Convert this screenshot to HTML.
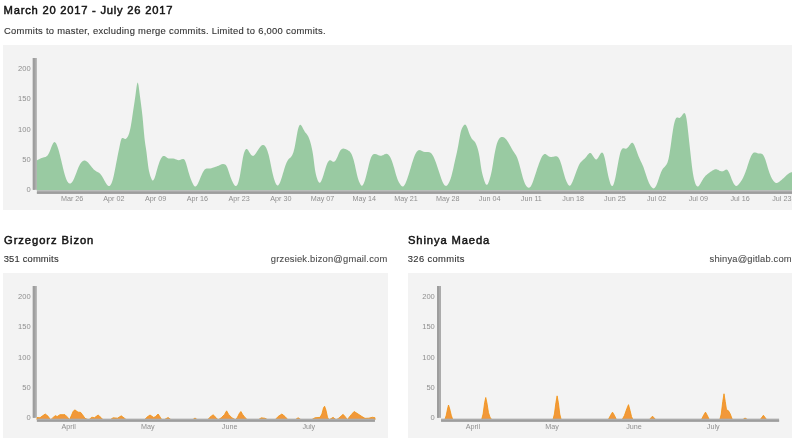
<!DOCTYPE html>
<html lang="en">
<head>
<meta charset="utf-8">
<title>Contributors</title>
<style>
html,body{margin:0;padding:0;background:#fff;}
body{width:800px;height:443px;position:relative;overflow:hidden;font-family:"Liberation Sans",Arial,sans-serif;color:#2e2e2e;}
.abs{position:absolute;white-space:nowrap;line-height:1;}
h3.abs{margin:0;font-size:11.2px;font-weight:normal;color:#141414;-webkit-text-stroke:0.48px #141414;}
.sub{font-size:9.4px;color:#333;-webkit-text-stroke:0.12px #333;}
.email{font-size:9.4px;color:#4c4c4c;text-align:right;-webkit-text-stroke:0.1px #4c4c4c;}
.box{position:absolute;background:#f3f3f3;overflow:hidden;}
svg{position:absolute;left:0;top:0;}
svg text.xl{font-size:7.2px;}
svg text{font-family:"Liberation Sans",Arial,sans-serif;font-size:7.55px;fill:#8f8f8f;}
</style>
</head>
<body>
<h3 class="abs" id="t1" style="left:3.6px;top:4.6px;letter-spacing:0.77px;">March 20 2017 - July 26 2017</h3>
<div class="abs sub" id="s1" style="left:4px;top:26px;letter-spacing:0.292px;">Commits to master, excluding merge commits. Limited to 6,000 commits.</div>
<div class="box" style="left:3px;top:44.5px;width:789px;height:165.5px;"></div>

<h3 class="abs" id="t2" style="left:4px;top:234.6px;letter-spacing:0.94px;">Grzegorz Bizon</h3>
<div class="abs sub" id="s2" style="left:3.7px;top:254.1px;letter-spacing:0.174px;">351 commits</div>
<div class="abs email" id="e2" style="right:412.6px;top:254.1px;letter-spacing:0.184px;">grzesiek.bizon@gmail.com</div>
<div class="box" style="left:3px;top:272.5px;width:385px;height:165.5px;"></div>

<h3 class="abs" id="t3" style="left:408px;top:234.6px;letter-spacing:0.88px;">Shinya Maeda</h3>
<div class="abs sub" id="s3" style="left:407.8px;top:254.1px;letter-spacing:0.354px;">326 commits</div>
<div class="abs email" id="e3" style="right:8.2px;top:254.1px;letter-spacing:0.171px;">shinya@gitlab.com</div>
<div class="box" style="left:407.8px;top:272.5px;width:384.2px;height:165.5px;"></div>

<svg width="800" height="443" viewBox="0 0 800 443">
<defs><clipPath id="c1"><rect x="3" y="44.5" width="789" height="165.5"/></clipPath></defs>
<g clip-path="url(#c1)">
<path d="M36.50,190.20L36.50,160.60L37.00,160.33L37.50,160.06L38.00,159.79L38.50,159.52L39.00,159.26L39.50,159.00L40.00,158.75L40.50,158.52L41.00,158.29L41.50,158.09L42.00,157.91L42.50,157.75L43.00,157.61L43.50,157.49L44.00,157.37L44.50,157.24L45.00,157.08L45.50,156.89L46.00,156.64L46.50,156.34L47.00,155.95L47.50,155.46L48.00,154.84L48.50,154.06L49.00,153.10L49.50,151.97L50.00,150.72L50.50,149.40L51.00,148.06L51.50,146.75L52.00,145.53L52.50,144.42L53.00,143.48L53.50,142.75L54.00,142.27L54.50,142.09L55.00,142.22L55.50,142.65L56.00,143.35L56.50,144.28L57.00,145.42L57.50,146.75L58.00,148.23L58.50,149.85L59.00,151.59L59.50,153.43L60.00,155.37L60.50,157.38L61.00,159.45L61.50,161.56L62.00,163.70L62.50,165.83L63.00,167.93L63.50,169.98L64.00,171.94L64.50,173.79L65.00,175.50L65.50,177.05L66.00,178.44L66.50,179.67L67.00,180.73L67.50,181.63L68.00,182.36L68.50,182.92L69.00,183.31L69.50,183.54L70.00,183.60L70.50,183.49L71.00,183.22L71.50,182.80L72.00,182.24L72.50,181.54L73.00,180.71L73.50,179.77L74.00,178.71L74.50,177.56L75.00,176.33L75.50,175.04L76.00,173.73L76.50,172.39L77.00,171.06L77.50,169.76L78.00,168.50L78.50,167.31L79.00,166.21L79.50,165.20L80.00,164.29L80.50,163.48L81.00,162.77L81.50,162.15L82.00,161.63L82.50,161.21L83.00,160.88L83.50,160.66L84.00,160.53L84.50,160.50L85.00,160.57L85.50,160.73L86.00,160.97L86.50,161.28L87.00,161.66L87.50,162.10L88.00,162.59L88.50,163.12L89.00,163.69L89.50,164.28L90.00,164.90L90.50,165.53L91.00,166.16L91.50,166.79L92.00,167.41L92.50,168.02L93.00,168.59L93.50,169.14L94.00,169.64L94.50,170.10L95.00,170.50L95.50,170.84L96.00,171.14L96.50,171.40L97.00,171.64L97.50,171.89L98.00,172.14L98.50,172.43L99.00,172.75L99.50,173.14L100.00,173.60L100.50,174.14L101.00,174.77L101.50,175.47L102.00,176.23L102.50,177.04L103.00,177.90L103.50,178.79L104.00,179.71L104.50,180.65L105.00,181.57L105.50,182.47L106.00,183.31L106.50,184.08L107.00,184.76L107.50,185.32L108.00,185.74L108.50,186.01L109.00,186.10L109.50,185.99L110.00,185.67L110.50,185.12L111.00,184.34L111.50,183.32L112.00,182.04L112.50,180.50L113.00,178.69L113.50,176.64L114.00,174.40L114.50,172.00L115.00,169.49L115.50,166.91L116.00,164.30L116.50,161.71L117.00,159.14L117.50,156.60L118.00,154.09L118.50,151.60L119.00,149.13L119.50,146.68L120.00,144.25L120.50,141.89L121.00,139.92L121.50,138.65L122.00,138.05L122.50,137.91L123.00,138.04L123.50,138.27L124.00,138.53L124.50,138.76L125.00,138.91L125.50,138.92L126.00,138.74L126.50,138.36L127.00,137.79L127.50,137.06L128.00,136.18L128.50,135.09L129.00,133.76L129.50,132.11L130.00,130.10L130.50,127.69L131.00,124.92L131.50,121.88L132.00,118.63L132.50,115.25L133.00,111.83L133.50,108.43L134.00,105.14L134.50,101.90L135.00,98.57L135.50,95.02L136.00,91.12L136.50,87.25L137.00,84.13L137.50,82.49L138.00,82.95L138.50,85.24L139.00,88.72L139.50,92.70L140.00,96.60L140.50,100.34L141.00,104.05L141.50,107.88L142.00,111.99L142.50,116.53L143.00,121.69L143.50,127.40L144.00,133.11L144.50,138.22L145.00,142.34L145.50,145.66L146.00,148.80L146.50,152.37L147.00,156.49L147.50,160.75L148.00,164.76L148.50,168.15L149.00,170.90L149.50,173.11L150.00,174.93L150.50,176.46L151.00,177.83L151.50,179.00L152.00,179.89L152.50,180.41L153.00,180.47L153.50,180.07L154.00,179.27L154.50,178.14L155.00,176.75L155.50,175.16L156.00,173.43L156.50,171.62L157.00,169.79L157.50,168.00L158.00,166.29L158.50,164.69L159.00,163.20L159.50,161.82L160.00,160.57L160.50,159.46L161.00,158.48L161.50,157.65L162.00,156.97L162.50,156.44L163.00,156.09L163.50,155.90L164.00,155.88L164.50,156.01L165.00,156.25L165.50,156.57L166.00,156.94L166.50,157.32L167.00,157.68L167.50,158.00L168.00,158.24L168.50,158.41L169.00,158.52L169.50,158.58L170.00,158.60L170.50,158.59L171.00,158.57L171.50,158.53L172.00,158.51L172.50,158.49L173.00,158.51L173.50,158.56L174.00,158.65L174.50,158.80L175.00,158.97L175.50,159.17L176.00,159.38L176.50,159.59L177.00,159.78L177.50,159.94L178.00,160.07L178.50,160.14L179.00,160.15L179.50,160.08L180.00,159.94L180.50,159.74L181.00,159.52L181.50,159.31L182.00,159.13L182.50,159.01L183.00,158.99L183.50,159.09L184.00,159.36L184.50,159.85L185.00,160.60L185.50,161.68L186.00,163.06L186.50,164.67L187.00,166.44L187.50,168.29L188.00,170.14L188.50,171.92L189.00,173.61L189.50,175.21L190.00,176.73L190.50,178.16L191.00,179.51L191.50,180.79L192.00,181.98L192.50,183.09L193.00,184.09L193.50,184.96L194.00,185.66L194.50,186.16L195.00,186.45L195.50,186.49L196.00,186.27L196.50,185.81L197.00,185.16L197.50,184.34L198.00,183.38L198.50,182.31L199.00,181.17L199.50,179.99L200.00,178.77L200.50,177.55L201.00,176.33L201.50,175.16L202.00,174.03L202.50,172.98L203.00,172.01L203.50,171.13L204.00,170.38L204.50,169.74L205.00,169.25L205.50,168.90L206.00,168.68L206.50,168.57L207.00,168.52L207.50,168.53L208.00,168.56L208.50,168.59L209.00,168.60L209.50,168.56L210.00,168.50L210.50,168.40L211.00,168.28L211.50,168.14L212.00,167.99L212.50,167.82L213.00,167.65L213.50,167.48L214.00,167.32L214.50,167.16L215.00,167.00L215.50,166.84L216.00,166.67L216.50,166.49L217.00,166.31L217.50,166.10L218.00,165.88L218.50,165.64L219.00,165.40L219.50,165.16L220.00,164.92L220.50,164.70L221.00,164.50L221.50,164.33L222.00,164.20L222.50,164.10L223.00,164.06L223.50,164.07L224.00,164.14L224.50,164.28L225.00,164.51L225.50,164.86L226.00,165.35L226.50,166.04L227.00,166.95L227.50,168.10L228.00,169.43L228.50,170.89L229.00,172.43L229.50,173.98L230.00,175.50L230.50,176.93L231.00,178.28L231.50,179.54L232.00,180.71L232.50,181.80L233.00,182.81L233.50,183.74L234.00,184.56L234.50,185.24L235.00,185.75L235.50,186.04L236.00,186.09L236.50,185.85L237.00,185.32L237.50,184.47L238.00,183.28L238.50,181.74L239.00,179.85L239.50,177.64L240.00,175.13L240.50,172.34L241.00,169.30L241.50,166.13L242.00,162.97L242.50,159.96L243.00,157.24L243.50,154.96L244.00,153.11L244.50,151.64L245.00,150.50L245.50,149.66L246.00,149.12L246.50,148.90L247.00,149.02L247.50,149.44L248.00,150.07L248.50,150.85L249.00,151.71L249.50,152.57L250.00,153.37L250.50,154.10L251.00,154.73L251.50,155.25L252.00,155.62L252.50,155.85L253.00,155.89L253.50,155.76L254.00,155.46L254.50,155.03L255.00,154.48L255.50,153.84L256.00,153.13L256.50,152.37L257.00,151.59L257.50,150.81L258.00,150.04L258.50,149.28L259.00,148.56L259.50,147.86L260.00,147.21L260.50,146.61L261.00,146.08L261.50,145.62L262.00,145.26L262.50,145.02L263.00,144.91L263.50,144.94L264.00,145.13L264.50,145.48L265.00,146.00L265.50,146.67L266.00,147.52L266.50,148.53L267.00,149.71L267.50,151.08L268.00,152.63L268.50,154.37L269.00,156.31L269.50,158.44L270.00,160.77L270.50,163.22L271.00,165.73L271.50,168.25L272.00,170.69L272.50,173.00L273.00,175.12L273.50,177.05L274.00,178.80L274.50,180.36L275.00,181.75L275.50,182.96L276.00,183.98L276.50,184.76L277.00,185.28L277.50,185.50L278.00,185.41L278.50,185.02L279.00,184.37L279.50,183.48L280.00,182.40L280.50,181.15L281.00,179.76L281.50,178.26L282.00,176.67L282.50,175.02L283.00,173.34L283.50,171.65L284.00,169.99L284.50,168.37L285.00,166.81L285.50,165.35L286.00,164.00L286.50,162.79L287.00,161.71L287.50,160.78L288.00,160.00L288.50,159.36L289.00,158.82L289.50,158.35L290.00,157.90L290.50,157.44L291.00,156.91L291.50,156.28L292.00,155.50L292.50,154.54L293.00,153.34L293.50,151.88L294.00,150.12L294.50,148.00L295.00,145.52L295.50,142.78L296.00,139.90L296.50,137.00L297.00,134.21L297.50,131.62L298.00,129.35L298.50,127.50L299.00,126.14L299.50,125.26L300.00,124.83L300.50,124.80L301.00,125.14L301.50,125.75L302.00,126.57L302.50,127.50L303.00,128.46L303.50,129.42L304.00,130.35L304.50,131.22L305.00,132.00L305.50,132.68L306.00,133.29L306.50,133.87L307.00,134.49L307.50,135.18L308.00,136.00L308.50,136.98L309.00,138.14L309.50,139.48L310.00,141.00L310.50,142.71L311.00,144.61L311.50,146.71L312.00,149.00L312.50,151.53L313.00,154.46L313.50,158.00L314.00,162.17L314.50,166.27L315.00,169.71L315.50,172.51L316.00,174.80L316.50,176.69L317.00,178.31L317.50,179.72L318.00,180.90L318.50,181.82L319.00,182.45L319.50,182.74L320.00,182.66L320.50,182.24L321.00,181.53L321.50,180.55L322.00,179.36L322.50,178.00L323.00,176.51L323.50,174.92L324.00,173.28L324.50,171.61L325.00,169.94L325.50,168.32L326.00,166.77L326.50,165.32L327.00,164.02L327.50,162.87L328.00,161.92L328.50,161.18L329.00,160.66L329.50,160.36L330.00,160.25L330.50,160.33L331.00,160.55L331.50,160.85L332.00,161.18L332.50,161.48L333.00,161.71L333.50,161.80L334.00,161.71L334.50,161.45L335.00,161.02L335.50,160.42L336.00,159.68L336.50,158.80L337.00,157.79L337.50,156.67L338.00,155.48L338.50,154.29L339.00,153.12L339.50,152.04L340.00,151.10L340.50,150.33L341.00,149.72L341.50,149.26L342.00,148.94L342.50,148.73L343.00,148.62L343.50,148.60L344.00,148.64L344.50,148.75L345.00,148.91L345.50,149.10L346.00,149.33L346.50,149.58L347.00,149.84L347.50,150.10L348.00,150.36L348.50,150.64L349.00,150.96L349.50,151.34L350.00,151.83L350.50,152.42L351.00,153.17L351.50,154.08L352.00,155.17L352.50,156.45L353.00,157.91L353.50,159.56L354.00,161.39L354.50,163.42L355.00,165.62L355.50,167.92L356.00,170.26L356.50,172.56L357.00,174.74L357.50,176.75L358.00,178.52L358.50,180.06L359.00,181.40L359.50,182.57L360.00,183.60L360.50,184.49L361.00,185.19L361.50,185.63L362.00,185.74L362.50,185.47L363.00,184.87L363.50,183.97L364.00,182.82L364.50,181.46L365.00,179.94L365.50,178.27L366.00,176.47L366.50,174.56L367.00,172.57L367.50,170.50L368.00,168.39L368.50,166.27L369.00,164.21L369.50,162.26L370.00,160.47L370.50,158.89L371.00,157.56L371.50,156.49L372.00,155.65L372.50,155.02L373.00,154.56L373.50,154.25L374.00,154.07L374.50,153.99L375.00,153.99L375.50,154.06L376.00,154.18L376.50,154.35L377.00,154.54L377.50,154.75L378.00,154.98L378.50,155.19L379.00,155.39L379.50,155.56L380.00,155.69L380.50,155.76L381.00,155.77L381.50,155.71L382.00,155.57L382.50,155.37L383.00,155.14L383.50,154.88L384.00,154.62L384.50,154.37L385.00,154.15L385.50,153.98L386.00,153.87L386.50,153.85L387.00,153.92L387.50,154.11L388.00,154.42L388.50,154.84L389.00,155.39L389.50,156.06L390.00,156.87L390.50,157.80L391.00,158.86L391.50,160.05L392.00,161.37L392.50,162.78L393.00,164.30L393.50,165.91L394.00,167.61L394.50,169.36L395.00,171.13L395.50,172.91L396.00,174.64L396.50,176.29L397.00,177.84L397.50,179.25L398.00,180.49L398.50,181.58L399.00,182.53L399.50,183.37L400.00,184.11L400.50,184.77L401.00,185.38L401.50,185.90L402.00,186.28L402.50,186.48L403.00,186.46L403.50,186.20L404.00,185.72L404.50,185.05L405.00,184.21L405.50,183.21L406.00,182.10L406.50,180.87L407.00,179.53L407.50,178.11L408.00,176.62L408.50,175.05L409.00,173.44L409.50,171.78L410.00,170.09L410.50,168.39L411.00,166.69L411.50,165.01L412.00,163.36L412.50,161.75L413.00,160.20L413.50,158.72L414.00,157.32L414.50,156.03L415.00,154.85L415.50,153.79L416.00,152.88L416.50,152.11L417.00,151.47L417.50,150.96L418.00,150.57L418.50,150.30L419.00,150.15L419.50,150.10L420.00,150.15L420.50,150.27L421.00,150.46L421.50,150.69L422.00,150.95L422.50,151.21L423.00,151.45L423.50,151.66L424.00,151.82L424.50,151.93L425.00,151.99L425.50,152.02L426.00,152.02L426.50,152.01L427.00,152.00L427.50,152.00L428.00,152.01L428.50,152.06L429.00,152.15L429.50,152.29L430.00,152.49L430.50,152.78L431.00,153.14L431.50,153.61L432.00,154.19L432.50,154.90L433.00,155.74L433.50,156.70L434.00,157.76L434.50,158.93L435.00,160.17L435.50,161.48L436.00,162.85L436.50,164.26L437.00,165.71L437.50,167.19L438.00,168.70L438.50,170.22L439.00,171.76L439.50,173.31L440.00,174.85L440.50,176.37L441.00,177.83L441.50,179.24L442.00,180.55L442.50,181.75L443.00,182.82L443.50,183.75L444.00,184.53L444.50,185.14L445.00,185.58L445.50,185.84L446.00,185.90L446.50,185.76L447.00,185.43L447.50,184.92L448.00,184.26L448.50,183.45L449.00,182.52L449.50,181.46L450.00,180.26L450.50,178.91L451.00,177.40L451.50,175.72L452.00,173.86L452.50,171.82L453.00,169.65L453.50,167.38L454.00,165.07L454.50,162.76L455.00,160.50L455.50,158.31L456.00,156.16L456.50,153.99L457.00,151.74L457.50,149.36L458.00,146.79L458.50,143.99L459.00,141.06L459.50,138.13L460.00,135.38L460.50,132.94L461.00,130.94L461.50,129.38L462.00,128.16L462.50,127.20L463.00,126.40L463.50,125.69L464.00,125.11L464.50,124.72L465.00,124.60L465.50,124.80L466.00,125.31L466.50,126.09L467.00,127.13L467.50,128.37L468.00,129.75L468.50,131.20L469.00,132.64L469.50,134.01L470.00,135.26L470.50,136.37L471.00,137.34L471.50,138.18L472.00,138.88L472.50,139.46L473.00,139.95L473.50,140.42L474.00,140.90L474.50,141.44L475.00,142.10L475.50,142.91L476.00,143.93L476.50,145.15L477.00,146.55L477.50,148.10L478.00,149.81L478.50,151.76L479.00,154.07L479.50,156.85L480.00,160.09L480.50,163.55L481.00,166.94L481.50,170.00L482.00,172.51L482.50,174.59L483.00,176.40L483.50,178.12L484.00,179.76L484.50,181.26L485.00,182.57L485.50,183.65L486.00,184.42L486.50,184.85L487.00,184.87L487.50,184.47L488.00,183.69L488.50,182.60L489.00,181.25L489.50,179.70L490.00,178.00L490.50,176.20L491.00,174.23L491.50,172.01L492.00,169.46L492.50,166.57L493.00,163.47L493.50,160.30L494.00,157.24L494.50,154.35L495.00,151.66L495.50,149.21L496.00,147.01L496.50,145.06L497.00,143.35L497.50,141.90L498.00,140.68L498.50,139.69L499.00,138.88L499.50,138.24L500.00,137.75L500.50,137.38L501.00,137.11L501.50,136.95L502.00,136.88L502.50,136.90L503.00,137.00L503.50,137.17L504.00,137.43L504.50,137.76L505.00,138.16L505.50,138.64L506.00,139.20L506.50,139.82L507.00,140.51L507.50,141.25L508.00,142.03L508.50,142.85L509.00,143.70L509.50,144.58L510.00,145.46L510.50,146.36L511.00,147.25L511.50,148.14L512.00,149.02L512.50,149.88L513.00,150.71L513.50,151.51L514.00,152.28L514.50,153.01L515.00,153.75L515.50,154.53L516.00,155.37L516.50,156.31L517.00,157.37L517.50,158.60L518.00,160.01L518.50,161.57L519.00,163.27L519.50,165.07L520.00,166.95L520.50,168.86L521.00,170.80L521.50,172.72L522.00,174.60L522.50,176.42L523.00,178.14L523.50,179.75L524.00,181.21L524.50,182.52L525.00,183.68L525.50,184.69L526.00,185.55L526.50,186.27L527.00,186.86L527.50,187.30L528.00,187.60L528.50,187.74L529.00,187.72L529.50,187.53L530.00,187.17L530.50,186.63L531.00,185.92L531.50,185.03L532.00,183.98L532.50,182.78L533.00,181.47L533.50,180.06L534.00,178.58L534.50,177.05L535.00,175.50L535.50,173.95L536.00,172.41L536.50,170.88L537.00,169.36L537.50,167.86L538.00,166.40L538.50,164.96L539.00,163.55L539.50,162.19L540.00,160.89L540.50,159.67L541.00,158.53L541.50,157.49L542.00,156.58L542.50,155.79L543.00,155.14L543.50,154.63L544.00,154.26L544.50,154.05L545.00,154.00L545.50,154.10L546.00,154.34L546.50,154.66L547.00,155.04L547.50,155.44L548.00,155.83L548.50,156.16L549.00,156.44L549.50,156.66L550.00,156.83L550.50,156.94L551.00,156.99L551.50,157.00L552.00,156.95L552.50,156.87L553.00,156.77L553.50,156.65L554.00,156.53L554.50,156.42L555.00,156.32L555.50,156.26L556.00,156.23L556.50,156.27L557.00,156.41L557.50,156.66L558.00,157.06L558.50,157.64L559.00,158.42L559.50,159.41L560.00,160.59L560.50,161.94L561.00,163.45L561.50,165.09L562.00,166.83L562.50,168.65L563.00,170.49L563.50,172.33L564.00,174.12L564.50,175.83L565.00,177.43L565.50,178.91L566.00,180.28L566.50,181.51L567.00,182.62L567.50,183.60L568.00,184.44L568.50,185.10L569.00,185.55L569.50,185.76L570.00,185.67L570.50,185.30L571.00,184.68L571.50,183.85L572.00,182.86L572.50,181.75L573.00,180.55L573.50,179.29L574.00,177.97L574.50,176.61L575.00,175.23L575.50,173.83L576.00,172.44L576.50,171.06L577.00,169.72L577.50,168.42L578.00,167.19L578.50,166.05L579.00,165.00L579.50,164.08L580.00,163.27L580.50,162.58L581.00,161.98L581.50,161.44L582.00,160.96L582.50,160.50L583.00,160.05L583.50,159.60L584.00,159.15L584.50,158.67L585.00,158.17L585.50,157.64L586.00,157.06L586.50,156.43L587.00,155.76L587.50,155.10L588.00,154.46L588.50,153.90L589.00,153.44L589.50,153.12L590.00,152.97L590.50,153.03L591.00,153.32L591.50,153.79L592.00,154.42L592.50,155.14L593.00,155.94L593.50,156.75L594.00,157.54L594.50,158.26L595.00,158.86L595.50,159.28L596.00,159.49L596.50,159.44L597.00,159.12L597.50,158.59L598.00,157.89L598.50,157.08L599.00,156.21L599.50,155.32L600.00,154.48L600.50,153.72L601.00,153.12L601.50,152.71L602.00,152.56L602.50,152.72L603.00,153.23L603.50,154.12L604.00,155.41L604.50,157.13L605.00,159.27L605.50,161.73L606.00,164.38L606.50,167.10L607.00,169.78L607.50,172.32L608.00,174.71L608.50,176.94L609.00,178.99L609.50,180.86L610.00,182.52L610.50,183.92L611.00,185.02L611.50,185.77L612.00,186.10L612.50,185.98L613.00,185.40L613.50,184.39L614.00,183.01L614.50,181.28L615.00,179.25L615.50,176.96L616.00,174.47L616.50,171.83L617.00,169.09L617.50,166.31L618.00,163.55L618.50,160.85L619.00,158.29L619.50,155.93L620.00,153.83L620.50,152.06L621.00,150.67L621.50,149.65L622.00,148.94L622.50,148.50L623.00,148.27L623.50,148.21L624.00,148.27L624.50,148.39L625.00,148.53L625.50,148.63L626.00,148.64L626.50,148.52L627.00,148.25L627.50,147.84L628.00,147.33L628.50,146.73L629.00,146.06L629.50,145.36L630.00,144.63L630.50,143.95L631.00,143.37L631.50,142.93L632.00,142.71L632.50,142.75L633.00,143.09L633.50,143.71L634.00,144.56L634.50,145.59L635.00,146.75L635.50,148.01L636.00,149.33L636.50,150.70L637.00,152.09L637.50,153.47L638.00,154.82L638.50,156.13L639.00,157.35L639.50,158.51L640.00,159.60L640.50,160.66L641.00,161.70L641.50,162.74L642.00,163.81L642.50,164.92L643.00,166.09L643.50,167.34L644.00,168.69L644.50,170.14L645.00,171.66L645.50,173.21L646.00,174.78L646.50,176.33L647.00,177.83L647.50,179.25L648.00,180.57L648.50,181.79L649.00,182.91L649.50,183.93L650.00,184.85L650.50,185.68L651.00,186.42L651.50,187.06L652.00,187.61L652.50,188.03L653.00,188.30L653.50,188.40L654.00,188.31L654.50,188.02L655.00,187.54L655.50,186.86L656.00,186.00L656.50,184.95L657.00,183.74L657.50,182.39L658.00,180.96L658.50,179.46L659.00,177.95L659.50,176.45L660.00,175.01L660.50,173.64L661.00,172.36L661.50,171.19L662.00,170.14L662.50,169.25L663.00,168.51L663.50,167.90L664.00,167.38L664.50,166.89L665.00,166.40L665.50,165.87L666.00,165.25L666.50,164.51L667.00,163.57L667.50,162.38L668.00,160.86L668.50,158.94L669.00,156.56L669.50,153.75L670.00,150.61L670.50,147.20L671.00,143.63L671.50,139.97L672.00,136.36L672.50,132.89L673.00,129.68L673.50,126.80L674.00,124.28L674.50,122.15L675.00,120.46L675.50,119.18L676.00,118.29L676.50,117.73L677.00,117.47L677.50,117.45L678.00,117.57L678.50,117.75L679.00,117.89L679.50,117.88L680.00,117.68L680.50,117.31L681.00,116.79L681.50,116.16L682.00,115.45L682.50,114.72L683.00,114.03L683.50,113.48L684.00,113.15L684.50,113.12L685.00,113.52L685.50,114.51L686.00,116.25L686.50,118.87L687.00,122.26L687.50,126.25L688.00,130.66L688.50,135.31L689.00,140.00L689.50,144.60L690.00,149.11L690.50,153.60L691.00,158.11L691.50,162.53L692.00,166.72L692.50,170.50L693.00,173.76L693.50,176.53L694.00,178.88L694.50,180.87L695.00,182.57L695.50,183.96L696.00,185.06L696.50,185.85L697.00,186.34L697.50,186.53L698.00,186.44L698.50,186.13L699.00,185.63L699.50,184.99L700.00,184.25L700.50,183.45L701.00,182.60L701.50,181.73L702.00,180.86L702.50,179.99L703.00,179.16L703.50,178.37L704.00,177.65L704.50,176.99L705.00,176.40L705.50,175.85L706.00,175.36L706.50,174.90L707.00,174.47L707.50,174.07L708.00,173.68L708.50,173.29L709.00,172.92L709.50,172.55L710.00,172.18L710.50,171.83L711.00,171.48L711.50,171.14L712.00,170.82L712.50,170.50L713.00,170.20L713.50,169.92L714.00,169.67L714.50,169.47L715.00,169.33L715.50,169.26L716.00,169.26L716.50,169.33L717.00,169.47L717.50,169.65L718.00,169.87L718.50,170.12L719.00,170.38L719.50,170.64L720.00,170.89L720.50,171.10L721.00,171.27L721.50,171.37L722.00,171.40L722.50,171.34L723.00,171.20L723.50,171.00L724.00,170.74L724.50,170.44L725.00,170.11L725.50,169.83L726.00,169.63L726.50,169.59L727.00,169.74L727.50,170.11L728.00,170.68L728.50,171.45L729.00,172.40L729.50,173.51L730.00,174.73L730.50,176.03L731.00,177.35L731.50,178.64L732.00,179.89L732.50,181.07L733.00,182.16L733.50,183.15L734.00,184.02L734.50,184.74L735.00,185.32L735.50,185.73L736.00,185.96L736.50,186.00L737.00,185.85L737.50,185.55L738.00,185.12L738.50,184.59L739.00,183.98L739.50,183.33L740.00,182.66L740.50,181.97L741.00,181.25L741.50,180.49L742.00,179.68L742.50,178.81L743.00,177.88L743.50,176.87L744.00,175.77L744.50,174.59L745.00,173.32L745.50,171.98L746.00,170.58L746.50,169.13L747.00,167.64L747.50,166.12L748.00,164.57L748.50,163.03L749.00,161.51L749.50,160.04L750.00,158.66L750.50,157.40L751.00,156.27L751.50,155.29L752.00,154.46L752.50,153.79L753.00,153.25L753.50,152.86L754.00,152.60L754.50,152.47L755.00,152.45L755.50,152.52L756.00,152.66L756.50,152.83L757.00,153.03L757.50,153.22L758.00,153.38L758.50,153.50L759.00,153.55L759.50,153.56L760.00,153.55L760.50,153.56L761.00,153.62L761.50,153.74L762.00,153.97L762.50,154.33L763.00,154.84L763.50,155.52L764.00,156.38L764.50,157.42L765.00,158.68L765.50,160.11L766.00,161.69L766.50,163.36L767.00,165.07L767.50,166.79L768.00,168.46L768.50,170.06L769.00,171.57L769.50,173.00L770.00,174.34L770.50,175.58L771.00,176.72L771.50,177.75L772.00,178.69L772.50,179.52L773.00,180.27L773.50,180.93L774.00,181.50L774.50,181.99L775.00,182.40L775.50,182.71L776.00,182.91L776.50,183.00L777.00,182.97L777.50,182.83L778.00,182.60L778.50,182.31L779.00,181.96L779.50,181.58L780.00,181.18L780.50,180.77L781.00,180.35L781.50,179.93L782.00,179.49L782.50,179.05L783.00,178.59L783.50,178.13L784.00,177.67L784.50,177.19L785.00,176.72L785.50,176.24L786.00,175.77L786.50,175.31L787.00,174.86L787.50,174.43L788.00,174.04L788.50,173.67L789.00,173.34L789.50,173.05L790.00,172.79L790.50,172.58L791.00,172.39L791.50,172.23L792.00,172.10L792.50,171.99L793.00,171.90L793.50,171.83L794.00,171.77L794.50,171.72L795.00,171.68L795.50,171.64L796.00,171.60L796.50,171.57L797.00,171.52L797.50,171.47L798.00,171.41L798.50,171.34L799.00,171.25L799.50,171.13L800.00,171.00L800.00,190.20Z" fill="#99caa2"/>
<rect x="32.8" y="58" width="4" height="131.8" fill="#ababab"/><rect x="32.8" y="58" width="2" height="131.8" fill="#9d9d9d"/>
<rect x="36.9" y="190.3" width="763.1" height="3.5" fill="#ababab"/><rect x="36.9" y="192.0" width="763.1" height="1.8" fill="#9d9d9d"/>
<text x="30.60" y="192.10" text-anchor="end">0</text><text x="30.60" y="161.83" text-anchor="end">50</text><text x="30.60" y="131.56" text-anchor="end">100</text><text x="30.60" y="101.29" text-anchor="end">150</text><text x="30.60" y="71.02" text-anchor="end">200</text>
<text class="xl" x="72.10" y="201.1" text-anchor="middle">Mar 26</text><text class="xl" x="113.85" y="201.1" text-anchor="middle">Apr 02</text><text class="xl" x="155.60" y="201.1" text-anchor="middle">Apr 09</text><text class="xl" x="197.35" y="201.1" text-anchor="middle">Apr 16</text><text class="xl" x="239.10" y="201.1" text-anchor="middle">Apr 23</text><text class="xl" x="280.85" y="201.1" text-anchor="middle">Apr 30</text><text class="xl" x="322.60" y="201.1" text-anchor="middle">May 07</text><text class="xl" x="364.35" y="201.1" text-anchor="middle">May 14</text><text class="xl" x="406.10" y="201.1" text-anchor="middle">May 21</text><text class="xl" x="447.85" y="201.1" text-anchor="middle">May 28</text><text class="xl" x="489.60" y="201.1" text-anchor="middle">Jun 04</text><text class="xl" x="531.35" y="201.1" text-anchor="middle">Jun 11</text><text class="xl" x="573.10" y="201.1" text-anchor="middle">Jun 18</text><text class="xl" x="614.85" y="201.1" text-anchor="middle">Jun 25</text><text class="xl" x="656.60" y="201.1" text-anchor="middle">Jul 02</text><text class="xl" x="698.35" y="201.1" text-anchor="middle">Jul 09</text><text class="xl" x="740.10" y="201.1" text-anchor="middle">Jul 16</text><text class="xl" x="781.85" y="201.1" text-anchor="middle">Jul 23</text>
</g>
<!-- left contributor -->
<path d="M37.00,419.90L37.00,417.50L40.00,417.75L42.50,415.85L45.25,414.00L48.10,416.25L50.60,419.90L52.50,418.15L55.00,415.65L57.25,416.50L60.00,414.65L65.00,414.65L67.50,417.15L69.40,419.90L71.25,415.85L73.10,411.50L74.75,409.85L78.10,412.15L80.60,412.35L82.50,414.65L85.00,418.35L88.75,419.90L91.90,417.15L94.40,417.75L98.10,415.00L101.25,417.75L103.10,419.90L110.00,419.90L113.10,417.75L117.50,418.15L121.25,415.85L124.40,418.15L126.50,419.90L144.40,419.90L146.90,417.15L150.00,415.00L153.75,417.50L155.60,416.50L158.10,414.00L160.60,417.75L161.90,419.90L163.75,419.90L168.10,417.50L171.25,419.90L192.50,419.90L195.00,418.00L197.50,419.90L207.50,419.90L210.00,417.15L213.10,414.75L216.25,417.85L218.10,419.90L221.25,417.75L224.40,414.65L226.60,410.85L228.75,414.65L231.90,417.75L235.60,419.90L237.50,417.15L239.40,413.35L240.90,411.50L242.75,414.65L245.00,417.50L247.50,419.90L258.10,419.90L261.25,417.85L265.00,418.25L268.10,419.90L275.00,419.90L278.10,416.50L281.90,414.00L285.00,416.50L288.10,419.90L295.00,419.90L298.10,417.75L301.25,419.90L311.25,419.90L315.00,417.75L320.00,417.35L321.90,414.00L323.50,407.75L324.60,406.25L326.00,410.25L327.50,417.15L329.00,419.90L333.10,417.35L336.25,419.90L338.75,418.15L343.10,414.35L345.60,417.15L347.25,419.90L348.75,417.75L351.25,414.65L354.10,411.50L358.10,414.00L361.90,416.50L365.00,418.35L368.75,418.15L372.50,417.25L375.00,417.75L375.00,419.90Z" fill="#f1983a" stroke="#f2900e" stroke-width="0.8" stroke-linejoin="round"/>
<rect x="32.8" y="286" width="4" height="131.8" fill="#ababab"/><rect x="32.8" y="286" width="2" height="131.8" fill="#9d9d9d"/>
<rect x="36.9" y="418.65" width="338" height="3.05" fill="#ababab"/><rect x="36.9" y="420.1" width="338" height="1.6" fill="#9d9d9d"/>
<text x="30.60" y="420.20" text-anchor="end">0</text><text x="30.60" y="389.93" text-anchor="end">50</text><text x="30.60" y="359.66" text-anchor="end">100</text><text x="30.60" y="329.39" text-anchor="end">150</text><text x="30.60" y="299.12" text-anchor="end">200</text>
<text class="xl" x="68.67" y="429.40" text-anchor="middle">April</text><text class="xl" x="147.84" y="429.40" text-anchor="middle">May</text><text class="xl" x="229.65" y="429.40" text-anchor="middle">June</text><text class="xl" x="308.82" y="429.40" text-anchor="middle">July</text>
<!-- right contributor -->
<path d="M441.25,419.90L441.25,419.90L444.75,419.90L446.25,415.25L447.50,409.00L448.50,405.00L449.75,409.00L451.25,415.25L452.90,419.90L481.50,419.90L483.10,414.00L484.60,402.75L485.75,397.50L486.90,402.75L488.50,412.75L490.00,417.15L491.90,419.90L552.90,419.90L554.40,414.00L555.90,402.75L557.10,395.85L558.40,402.75L559.75,414.00L561.25,419.90L608.10,419.90L610.60,415.25L612.50,412.15L614.40,415.25L616.60,419.90L622.00,419.90L624.40,415.55L626.90,408.45L628.50,404.65L630.00,410.25L631.50,416.50L633.10,419.90L649.00,419.90L652.50,416.15L656.00,419.90L701.25,419.90L703.60,415.25L705.50,412.15L707.40,415.55L709.40,419.90L719.75,419.90L721.25,414.00L722.75,401.50L724.00,393.75L725.25,401.50L726.50,409.65L728.50,410.85L730.25,414.00L732.50,419.90L742.50,419.90L745.00,418.00L748.10,419.90L760.00,419.90L763.40,415.25L766.90,419.90L779.00,419.90L779.00,419.90Z" fill="#f1983a" stroke="#f2900e" stroke-width="0.8" stroke-linejoin="round"/>
<rect x="437.0" y="286" width="4" height="131.8" fill="#ababab"/><rect x="437.0" y="286" width="2" height="131.8" fill="#9d9d9d"/>
<rect x="441.1" y="418.65" width="338" height="3.05" fill="#ababab"/><rect x="441.1" y="420.1" width="338" height="1.6" fill="#9d9d9d"/>
<text x="434.80" y="420.20" text-anchor="end">0</text><text x="434.80" y="389.93" text-anchor="end">50</text><text x="434.80" y="359.66" text-anchor="end">100</text><text x="434.80" y="329.39" text-anchor="end">150</text><text x="434.80" y="299.12" text-anchor="end">200</text>
<text class="xl" x="472.89" y="429.40" text-anchor="middle">April</text><text class="xl" x="552.12" y="429.40" text-anchor="middle">May</text><text class="xl" x="633.99" y="429.40" text-anchor="middle">June</text><text class="xl" x="713.22" y="429.40" text-anchor="middle">July</text>
</svg>
</body>
</html>
